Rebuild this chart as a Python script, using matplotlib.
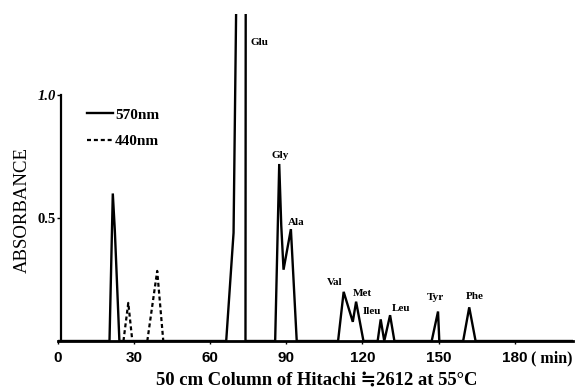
import matplotlib
matplotlib.use("Agg")
import matplotlib.pyplot as plt

# ---- data ----
time_570 = [0, 20.3, 21.6, 22.4, 24.2,
            66.3, 69.2, 70.2, 70.6, 74.0, 73.9,
            85.6, 87.2, 88.0, 88.9, 91.8, 94.1,
            110.4, 112.6, 116.2, 117.5, 120.4,
            126.0, 127.2, 128.6, 130.9, 132.6,
            147.3, 149.8, 150.3,
            159.7, 162.1, 164.6, 203]
abs_570 = [0, 0, 0.60, 0.45, 0,
           0, 0.44, 1.33, 1.50, 1.50, 0,
           0, 0.72, 0.47, 0.29, 0.455, 0,
           0, 0.20, 0.078, 0.16, 0,
           0, 0.088, 0, 0.105, 0,
           0, 0.12, 0,
           0, 0.137, 0, 0]

time_440 = [25.8, 27.7, 29.3, None, 35.2, 39.1, 41.5]
abs_440 = [0, 0.155, 0, None, 0, 0.285, 0]

peak_names = ["Glu", "Gly", "Ala", "Val", "Met", "Ileu", "Leu", "Tyr", "Phe"]
label_x = [75.7, 87.6, 90.7, 106.1, 116.3, 120.2, 131.6, 145.4, 160.8]
label_y = [1.215, 0.756, 0.484, 0.236, 0.195, 0.118, 0.134, 0.175, 0.179]
label_ha = ["left", "center", "left", "left", "left", "left", "left", "left", "left"]

x_ticks = [0, 30, 60, 90, 120, 150, 180]
x_ticklabels = ["0", "30", "60", "90", "120", "150", "180"]
y_ticks = [0.5, 1.0]
y_ticklabels = ["0.5", "1.0"]

serif = ["Liberation Serif", "DejaVu Serif"]
sans = ["Liberation Sans", "DejaVu Sans"]

fig = plt.figure(figsize=(5.81, 3.92), dpi=100)
ax = fig.add_axes([58/581, 51/392, (573-58)/581, (341-14)/392])

t440 = [t if t is not None else float("nan") for t in time_440]
a440 = [a if a is not None else float("nan") for a in abs_440]

ax.plot(time_570, abs_570, color="black", lw=1.7, solid_joinstyle="miter", label="570nm")
ax.plot(t440, a440, color="black", lw=1.6, linestyle=(0, (1.8, 1.3)), label="440nm")

ax.set_xlim(0, 203)
ax.set_ylim(0, 1.33)

for s in ["top", "right"]:
    ax.spines[s].set_visible(False)
ax.spines["left"].set_position(("data", 1.3))
ax.spines["left"].set_bounds(0, 1.0)
ax.spines["left"].set_linewidth(1.6)
ax.spines["bottom"].set_linewidth(2.0)

ax.set_xticks(x_ticks)
ax.set_xticklabels(x_ticklabels, fontsize=11, fontweight="bold", family=sans)
ax.set_yticks(y_ticks)
ax.set_yticklabels(y_ticklabels, fontsize=10.5, fontweight="bold", family=serif)
ax.get_yticklabels()[1].set_fontstyle("italic")
ax.tick_params(axis="x", length=2, width=1, pad=5)
ax.tick_params(axis="y", length=3, width=1, pad=1)

ax.annotate("( min)", xy=(180, 0), xycoords="data", xytext=(12, -7),
            textcoords="offset points", ha="left", va="top",
            fontsize=11.5, fontweight="bold", family=serif, annotation_clip=False)

for name, x, y, ha in zip(peak_names, label_x, label_y, label_ha):
    ax.text(x, y, name, ha=ha, va="center", fontsize=8, fontweight="bold", family=serif)

ax.set_ylabel("ABSORBANCE", fontsize=13.5, family=serif)
ax.yaxis.set_label_coords(-0.052, 0.40)
ax.set_xlabel("50 cm Column of Hitachi \u22522612 at 55\u00b0C", fontsize=13.4,
              fontweight="bold", family=serif)
ax.xaxis.set_label_coords(0.503, -0.095)

leg = ax.legend(loc="upper left", bbox_to_anchor=(0.029, 0.755), frameon=False,
                handlelength=1.7, handletextpad=0.15, labelspacing=0.85,
                prop={"family": serif, "weight": "bold", "size": 11})

fig.savefig("out.png", dpi=100)
